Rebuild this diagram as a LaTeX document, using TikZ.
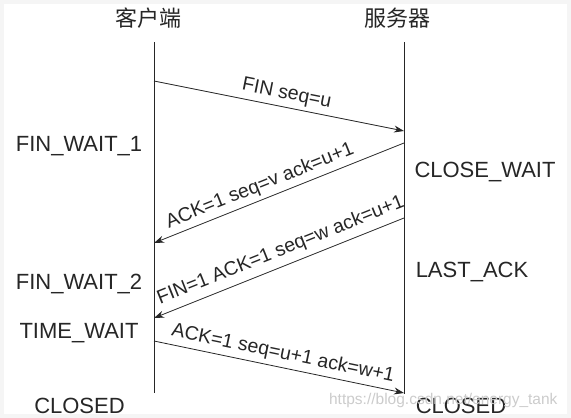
\documentclass[tikz,border=0pt]{standalone}
\usepackage{fontspec}
\setmainfont{Liberation Sans}
\newfontfamily\cjk{Noto Sans CJK SC}
\usetikzlibrary{arrows.meta,positioning}

\begin{document}
\begin{tikzpicture}[x=1pt, y=-1pt, >={Stealth[length=10pt,width=7pt]},
  header/.style={font=\cjk\fontsize{22}{26}\selectfont, text=black!85, inner sep=0pt},
  state/.style={font=\fontsize{22}{26}\selectfont, text=black!85, inner sep=0pt, anchor=base},
  life/.style={line width=0.9pt, black!85},
  msg/.style={->, line width=0.8pt, black!85},
  lbl/.style={font=\fontsize{19.5}{23}\selectfont, text=black!85, sloped, inner sep=1pt, above=3pt}]
  % frame
  \fill[black!4] (0,0) rectangle (571,418);
  \fill[white] (4,4) rectangle (567,414);
  \useasboundingbox (0,0) rectangle (571,418);
  % lifelines
  \node[header] (client) at (148,18) {客户端};
  \node[header] (server) at (397,18) {服务器};
  \coordinate (ctop) at (154,42);
  \coordinate (cbot) at (154,393);
  \coordinate (stop) at (404,42);
  \coordinate (sbot) at (404,394);
  \draw[life] (ctop) -- (cbot);
  \draw[life] (stop) -- (sbot);
  % message ends
  \coordinate (c1) at (154,81);
  \coordinate (s1) at (404,131);
  \coordinate (s2) at (404,143);
  \coordinate (c2) at (154,243);
  \coordinate (s3) at (404,218);
  \coordinate (c3) at (154,318);
  \coordinate (c4) at (154,341);
  \coordinate (s4) at (404,393);
  % messages
  \draw[msg] (c1) -- node[lbl, pos=0.52] {FIN seq=u} (s1);
  \draw[msg] (s2) -- node[lbl, pos=0.556] {ACK=1 seq=v ack=u+1} (c2);
  \draw[msg] (s3) -- node[lbl, pos=0.47, above=5pt] {FIN=1 ACK=1 seq=w ack=u+1} (c3);
  \draw[msg] (c4) -- node[lbl, pos=0.505] {ACK=1 seq=u+1 ack=w+1} (s4);
  % states
  \node[state] (fw1) at (79,151.5) {FIN\_WAIT\_1};
  \node[state] (cw) at (485,177) {CLOSE\_WAIT};
  \node[state] (la) at (472,277) {LAST\_ACK};
  \node[state] (fw2) at (79,289.5) {FIN\_WAIT\_2};
  \node[state] (tw) at (79,338.5) {TIME\_WAIT};
  \node[state] (ccl) at (79.5,413) {CLOSED};
  \node[state] (scl) at (461,413) {CLOSED};
  % watermark
  \node[text=black!20, font=\fontsize{15.5}{18}\selectfont, anchor=east] (mark) at (561,400) {https://blog.csdn.net/energy\_tank};
\end{tikzpicture}
\end{document}
